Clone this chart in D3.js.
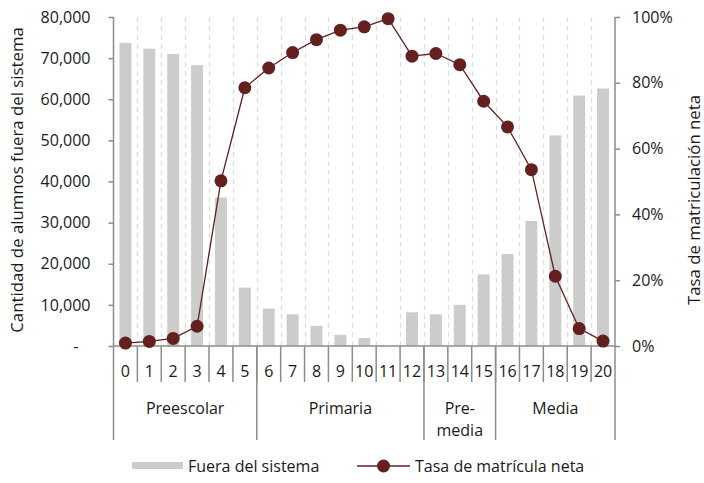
<!DOCTYPE html>
<html>
<head>
<meta charset="utf-8">
<script src="https://cdn.jsdelivr.net/npm/d3@7"></script>
<style>
  html, body { margin: 0; padding: 0; background: #fff; }
  svg text { font-family: "Open Sans", sans-serif; fill: #1a1a1a; }
</style>
</head>
<body>
<svg id="chart" width="704" height="483"></svg>
<script>
// Ages 0–20
const ages = ["0","1","2","3","4","5","6","7","8","9","10","11","12","13","14","15","16","17","18","19","20"];

// Students out of the school system, by age
const fueraDelSistema = [73700, 72300, 71000, 68300, 36100, 14200, 9100, 7700, 4900, 2700, 1950, 0,
                         8200, 7700, 10000, 17400, 22400, 30400, 51200, 60900, 62600];

// Net enrolment rate, by age (fraction)
const tasaNeta = [0.009, 0.014, 0.023, 0.060, 0.502, 0.785, 0.845, 0.892, 0.931, 0.960, 0.970, 0.995,
                  0.881, 0.889, 0.855, 0.744, 0.666, 0.536, 0.212, 0.053, 0.015];

// Education levels with their first and last age
const niveles = [
  { lines: ["Preescolar"], from: 0, to: 5 },
  { lines: ["Primaria"], from: 6, to: 12 },
  { lines: ["Pre-", "media"], from: 13, to: 15 },
  { lines: ["Media"], from: 16, to: 20 }
];

const leftTicks = [0, 10000, 20000, 30000, 40000, 50000, 60000, 70000, 80000];
const rightTicks = [0, 0.2, 0.4, 0.6, 0.8, 1.0];

const svg = d3.select("#chart");
const m = { left: 113.5, right: 615, top: 17, bottom: 346 };
const axisColor = "#8c8c8c";
const barColor = "#cccccc";
const lineColor = "#63201f";
const fs = 16;
const titleFs = 16.8;

const x = d3.scaleBand().domain(ages).range([m.left, m.right]).paddingInner(0).paddingOuter(0);
const yL = d3.scaleLinear().domain([0, 80000]).range([m.bottom, m.top]);
const yR = d3.scaleLinear().domain([0, 1]).range([m.bottom, m.top]);

// Dashed vertical gridlines between ages
svg.append("g").selectAll("line")
  .data(ages.slice(1))
  .join("line")
  .attr("x1", d => Math.round(x(d)) + 0.5)
  .attr("x2", d => Math.round(x(d)) + 0.5)
  .attr("y1", m.top)
  .attr("y2", m.bottom)
  .attr("stroke", "#dedede")
  .attr("stroke-width", 1.3)
  .attr("stroke-dasharray", "5,4");

// Bars
const bw = x.bandwidth() * 0.5;
svg.append("g").selectAll("rect")
  .data(ages)
  .join("rect")
  .attr("x", d => x(d) + (x.bandwidth() - bw) / 2)
  .attr("width", bw)
  .attr("y", (d, i) => yL(fueraDelSistema[i]))
  .attr("height", (d, i) => yL(0) - yL(fueraDelSistema[i]))
  .attr("fill", barColor);

// Left axis
const leftAxis = d3.axisLeft(yL)
  .tickValues(leftTicks)
  .tickSize(5)
  .tickPadding(18)
  .tickFormat(d => d === 0 ? "-" : d3.format(",")(d));
const gL = svg.append("g").attr("transform", `translate(${m.left},0)`).call(leftAxis);
gL.select(".domain").remove();
gL.selectAll(".tick line").attr("stroke", axisColor).attr("stroke-width", 1.5);
gL.selectAll(".tick text").attr("font-size", fs).attr("fill", "#1a1a1a")
  .attr("font-family", "Open Sans, sans-serif");
gL.selectAll(".tick").filter(d => d === 0).select("text").attr("dx", -12);
svg.append("line")
  .attr("x1", m.left).attr("x2", m.left)
  .attr("y1", m.top).attr("y2", 440)
  .attr("stroke", axisColor).attr("stroke-width", 1.5);

// Right axis
const rightAxis = d3.axisRight(yR)
  .tickValues(rightTicks)
  .tickSize(5)
  .tickPadding(12)
  .tickFormat(d3.format(".0%"));
const gR = svg.append("g").attr("transform", `translate(${m.right},0)`).call(rightAxis);
gR.select(".domain").remove();
gR.selectAll(".tick line").attr("stroke", axisColor).attr("stroke-width", 1.5);
gR.selectAll(".tick text").attr("font-size", fs).attr("fill", "#1a1a1a")
  .attr("font-family", "Open Sans, sans-serif");
svg.append("line")
  .attr("x1", m.right).attr("x2", m.right)
  .attr("y1", m.top).attr("y2", 440)
  .attr("stroke", axisColor).attr("stroke-width", 1.5);

// Baseline
svg.append("line")
  .attr("x1", m.left).attr("x2", m.right)
  .attr("y1", m.bottom).attr("y2", m.bottom)
  .attr("stroke", axisColor).attr("stroke-width", 1.5);

// Age ticks and labels
svg.append("g").selectAll("line")
  .data(ages.slice(1))
  .join("line")
  .attr("x1", d => x(d)).attr("x2", d => x(d))
  .attr("y1", m.bottom).attr("y2", 382)
  .attr("stroke", axisColor).attr("stroke-width", 1.5);
svg.append("g").selectAll("text")
  .data(ages)
  .join("text")
  .attr("x", d => x(d) + x.bandwidth() / 2)
  .attr("y", 376.5)
  .attr("text-anchor", "middle")
  .attr("font-size", fs)
  .text(d => d);

// Level separators and labels
svg.append("g").selectAll("line")
  .data(niveles.slice(1))
  .join("line")
  .attr("x1", d => x(ages[d.from])).attr("x2", d => x(ages[d.from]))
  .attr("y1", m.bottom).attr("y2", 440)
  .attr("stroke", axisColor).attr("stroke-width", 1.5);
const lvl = svg.append("g").selectAll("text")
  .data(niveles)
  .join("text")
  .attr("text-anchor", "middle")
  .attr("font-size", fs)
  .attr("x", d => (x(ages[d.from]) + x(ages[d.to]) + x.bandwidth()) / 2)
  .attr("y", 413.5);
lvl.selectAll("tspan")
  .data(d => d.lines.map(t => ({ t, cx: (x(ages[d.from]) + x(ages[d.to]) + x.bandwidth()) / 2 })))
  .join("tspan")
  .attr("x", d => d.cx)
  .attr("dy", (d, i) => i === 0 ? 0 : 22)
  .text(d => d.t);

// Net enrolment line with markers
const line = d3.line()
  .x((d, i) => x(ages[i]) + x.bandwidth() / 2)
  .y(d => yR(d));
svg.append("path")
  .datum(tasaNeta)
  .attr("d", line)
  .attr("fill", "none")
  .attr("stroke", lineColor)
  .attr("stroke-width", 1.3);
svg.append("g").selectAll("circle")
  .data(tasaNeta)
  .join("circle")
  .attr("cx", (d, i) => x(ages[i]) + x.bandwidth() / 2)
  .attr("cy", d => yR(d))
  .attr("r", 6.5)
  .attr("fill", lineColor);

// Axis titles
svg.append("text")
  .attr("transform", `translate(23,180) rotate(-90)`)
  .attr("text-anchor", "middle")
  .attr("font-size", titleFs)
  .text("Cantidad de alumnos fuera del sistema");
svg.append("text")
  .attr("transform", `translate(700,200) rotate(-90)`)
  .attr("text-anchor", "middle")
  .attr("font-size", titleFs)
  .text("Tasa de matriculación neta");

// Legend
const lg = svg.append("g");
lg.append("rect")
  .attr("x", 132).attr("y", 462).attr("width", 51).attr("height", 7)
  .attr("fill", barColor);
lg.append("text")
  .attr("x", 188).attr("y", 471.5)
  .attr("font-size", fs)
  .text("Fuera del sistema");
lg.append("line")
  .attr("x1", 357).attr("x2", 410).attr("y1", 466).attr("y2", 466)
  .attr("stroke", lineColor).attr("stroke-width", 1.3);
lg.append("circle")
  .attr("cx", 383.5).attr("cy", 466).attr("r", 6.5)
  .attr("fill", lineColor);
lg.append("text")
  .attr("x", 415).attr("y", 471.5)
  .attr("font-size", fs)
  .text("Tasa de matrícula neta");
</script>
</body>
</html>
